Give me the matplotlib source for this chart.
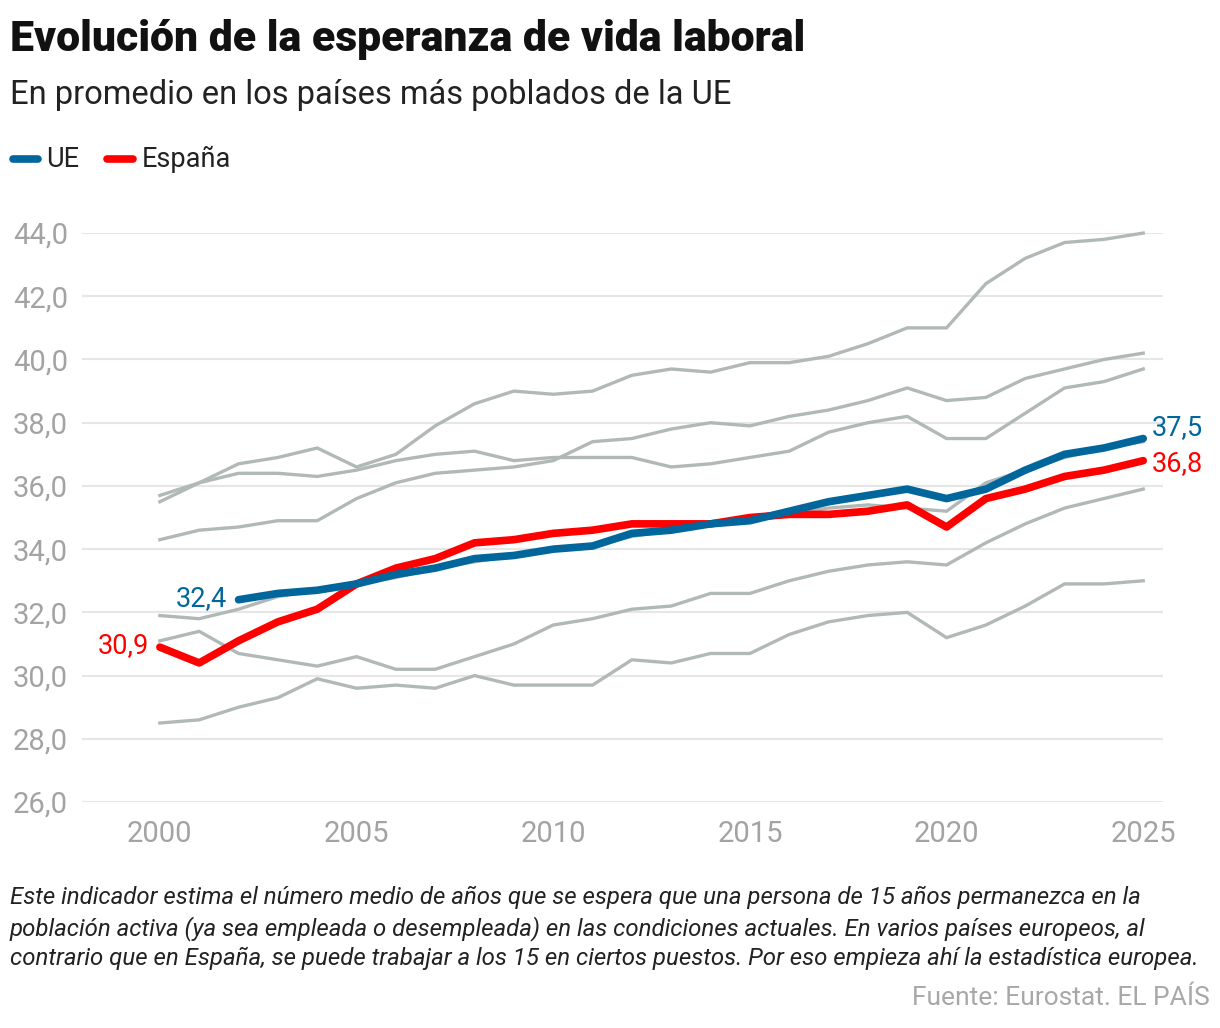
import matplotlib
matplotlib.use('Agg')
import matplotlib.pyplot as plt
from matplotlib.lines import Line2D

plt.rcParams['font.family'] = ['Roboto', 'DejaVu Sans']

#### DATA
years = list(range(2000, 2026))
ue_years = list(range(2002, 2026))
ue = [32.4, 32.6, 32.7, 32.9, 33.2, 33.4, 33.7, 33.8, 34.0, 34.1, 34.5, 34.6,
      34.8, 34.9, 35.2, 35.5, 35.7, 35.9, 35.6, 35.9, 36.5, 37.0, 37.2, 37.5]
spain = [30.9, 30.4, 31.1, 31.7, 32.1, 32.9, 33.4, 33.7, 34.2, 34.3, 34.5, 34.6, 34.8,
         34.8, 34.8, 35.0, 35.1, 35.1, 35.2, 35.4, 34.7, 35.6, 35.9, 36.3, 36.5, 36.8]
# other large EU countries (gray lines)
country_a = [35.5, 36.1, 36.7, 36.9, 37.2, 36.6, 37.0, 37.9, 38.6, 39.0, 38.9, 39.0, 39.5,
             39.7, 39.6, 39.9, 39.9, 40.1, 40.5, 41.0, 41.0, 42.4, 43.2, 43.7, 43.8, 44.0]
country_b = [34.3, 34.6, 34.7, 34.9, 34.9, 35.6, 36.1, 36.4, 36.5, 36.6, 36.8, 37.4, 37.5,
             37.8, 38.0, 37.9, 38.2, 38.4, 38.7, 39.1, 38.7, 38.8, 39.4, 39.7, 40.0, 40.2]
country_c = [35.7, 36.1, 36.4, 36.4, 36.3, 36.5, 36.8, 37.0, 37.1, 36.8, 36.9, 36.9, 36.9,
             36.6, 36.7, 36.9, 37.1, 37.7, 38.0, 38.2, 37.5, 37.5, 38.3, 39.1, 39.3, 39.7]
country_d = [31.9, 31.8, 32.1, 32.5, 32.7, 32.9, 33.1, 33.4, 33.6, 33.8, 34.0, 34.1, 34.4,
             34.6, 34.8, 34.9, 35.1, 35.3, 35.4, 35.3, 35.2, 36.1, 36.5, 36.9, 37.2, 37.4]
country_e = [31.1, 31.4, 30.7, 30.5, 30.3, 30.6, 30.2, 30.2, 30.6, 31.0, 31.6, 31.8, 32.1,
             32.2, 32.6, 32.6, 33.0, 33.3, 33.5, 33.6, 33.5, 34.2, 34.8, 35.3, 35.6, 35.9]
country_f = [28.5, 28.6, 29.0, 29.3, 29.9, 29.6, 29.7, 29.6, 30.0, 29.7, 29.7, 29.7, 30.5,
             30.4, 30.7, 30.7, 31.3, 31.7, 31.9, 32.0, 31.2, 31.6, 32.2, 32.9, 32.9, 33.0]
others = [country_a, country_b, country_c, country_d, country_e, country_f]

y_ticks = [26, 28, 30, 32, 34, 36, 38, 40, 42, 44]
x_ticks = [2000, 2005, 2010, 2015, 2020, 2025]

BLUE = '#00669b'
RED = '#ff0000'
GRAY = '#b1b9b8'
TICK = '#a3a3a3'

fig = plt.figure(figsize=(12.2, 10.28), dpi=100)
ax = fig.add_axes([0.0672, 0.2198, 0.886, 0.5535])

for vals in others:
    ax.plot(years, vals, color=GRAY, lw=2.4, solid_joinstyle='miter', clip_on=False, zorder=2)
ax.plot(years, spain, color=RED, lw=5.5, solid_capstyle='round', clip_on=False, zorder=3)
ax.plot(ue_years, ue, color=BLUE, lw=5.5, solid_capstyle='round', clip_on=False, zorder=4)

# value labels at the ends
ax.annotate(f'{ue[-1]:.1f}'.replace('.', ','), (ue_years[-1], ue[-1]), xytext=(6, 8),
            textcoords='offset points', color=BLUE, fontsize=19.5, va='center', ha='left')
ax.annotate(f'{spain[-1]:.1f}'.replace('.', ','), (years[-1], spain[-1]), xytext=(6, -2),
            textcoords='offset points', color=RED, fontsize=19.5, va='center', ha='left')
ax.annotate(f'{ue[0]:.1f}'.replace('.', ','), (ue_years[0], ue[0]), xytext=(-8, 1),
            textcoords='offset points', color=BLUE, fontsize=19.5, va='center', ha='right')
ax.annotate(f'{spain[0]:.1f}'.replace('.', ','), (years[0], spain[0]), xytext=(-8, 1),
            textcoords='offset points', color=RED, fontsize=19.5, va='center', ha='right')

ax.set_xlim(1998.02, 2025.5)
ax.set_ylim(26, 44)
ax.set_yticks(y_ticks)
ax.set_yticklabels([f'{v:.1f}'.replace('.', ',') for v in y_ticks])
ax.set_xticks(x_ticks)
ax.set_xticklabels([str(v) for v in x_ticks])
ax.tick_params(axis='both', length=0, labelsize=21, labelcolor=TICK)
ax.tick_params(axis='y', pad=10)
ax.tick_params(axis='x', pad=13)
ax.grid(axis='y', color='#e6e6e6', lw=1.5, zorder=0)
for s in ax.spines.values():
    s.set_visible(False)

# title, subtitle and legend
fig.text(0.008, 0.962, 'Evolución de la esperanza de vida laboral', fontsize=30.8,
         fontweight='heavy', color='#111111', va='center')
fig.text(0.008, 0.908, 'En promedio en los países más poblados de la UE', fontsize=23.5,
         color='#222222', va='center')
fig.add_artist(Line2D([0.011, 0.031], [0.845, 0.845], color=BLUE, lw=5.5,
                      solid_capstyle='round', transform=fig.transFigure))
fig.text(0.038, 0.845, 'UE', fontsize=19.5, color='#222222', va='center')
fig.add_artist(Line2D([0.088, 0.109], [0.845, 0.845], color=RED, lw=5.5,
                      solid_capstyle='round', transform=fig.transFigure))
fig.text(0.116, 0.845, 'España', fontsize=19.5, color='#222222', va='center')

# footnote and source
note = ('Este indicador estima el número medio de años que se espera que una persona de 15 años permanezca en la\n'
        'población activa (ya sea empleada o desempleada) en las condiciones actuales. En varios países europeos, al\n'
        'contrario que en España, se puede trabajar a los 15 en ciertos puestos. Por eso empieza ahí la estadística europea.')
fig.text(0.008, 0.138, note, fontsize=17.3, style='italic', color='#222222', va='top',
         linespacing=1.33)
fig.text(0.992, 0.029, 'Fuente: Eurostat. EL PAÍS', fontsize=19, color='#a8a8a8',
         ha='right', va='center')

fig.savefig('out.png', dpi=100)
